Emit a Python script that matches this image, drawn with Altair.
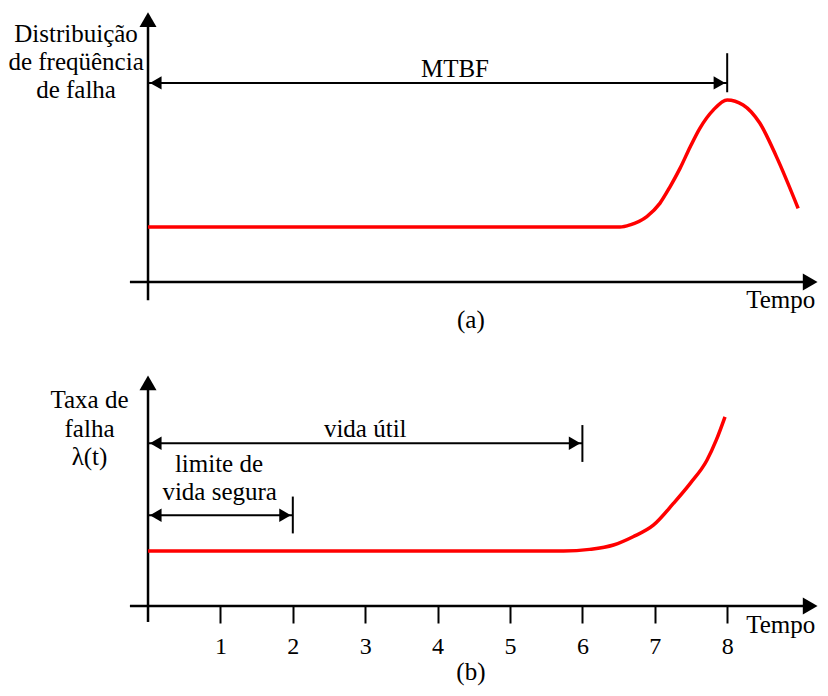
import altair as alt
import pandas as pd

# ---------------- data ----------------
# shared time axis (units of "Tempo")
XDOM = [-1.934, 9.282]
W = 812
HA, HB = 330, 352
YDOM_A = [-1.018, 4.982]
YDOM_B = [-1.527, 4.873]

# (a) failure frequency distribution
a_x = [0.0, 6.0, 6.52, 6.66, 6.89, 7.07, 7.21, 7.35, 7.49, 7.62, 7.81, 8.0, 8.22, 8.45, 8.68, 8.98]
a_y = [1.0, 1.0, 1.0, 1.04, 1.19, 1.43, 1.73, 2.07, 2.46, 2.79, 3.13, 3.31, 3.22, 2.89, 2.28, 1.34]

# (b) failure rate lambda(t)
b_x = [0.0, 5.74, 6.10, 6.43, 6.70, 6.98, 7.26, 7.49, 7.72, 7.85, 7.97]
b_y = [1.0, 1.0, 1.03, 1.11, 1.26, 1.47, 1.87, 2.23, 2.65, 3.02, 3.44]

ticks = [1, 2, 3, 4, 5, 6, 7, 8]

# dimension arrows: start, end, level, tick low, tick high
mtbf = [0, 8, 3.62, 3.45, 4.16]
vida_util = [0, 6, 2.96, 2.62, 3.29]
limite = [0, 2, 1.65, 1.32, 1.99]

# axis lines
a_axis_x = [-0.25, 9.15]
a_axis_y = [-0.33, 4.8]
a_tip = [9.282, 4.95]
b_axis_x = [-0.25, 9.15]
b_axis_y = [-0.29, 4.05]
b_tip = [9.282, 4.236]

# texts
a_labels = ["Distribuição", "de freqüência", "de falha", "MTBF", "Tempo", "(a)"]
a_lx = [-0.994, -0.994, -0.994, 4.24, 8.74, 4.46]
a_ly = [4.369, 3.855, 3.340, 3.727, -0.478, -0.836]

b_labels = ["Taxa de", "falha", "λ(t)", "vida útil", "limite de", "vida segura", "Tempo", "(b)"]
b_lx = [-0.808, -0.808, -0.808, 3.00, 0.98, 0.99, 8.74, 4.46]
b_ly = [3.595, 3.078, 2.564, 3.078, 2.442, 1.927, -0.484, -1.35]

FONT = "Liberation Serif"
FS = 25


def build_panel(cx, cy, axis_x, axis_y, tip, dims, labels, lx, ly, ydom, h, xaxis):
    X = lambda f="x": alt.X(f"{f}:Q", scale=alt.Scale(domain=XDOM, nice=False, zero=False), axis=xaxis)
    Y = lambda f="y": alt.Y(f"{f}:Q", scale=alt.Scale(domain=ydom, nice=False, zero=False), axis=None)

    axes_df = pd.DataFrame({
        "x": [axis_x[0], 0], "x2": [axis_x[1], 0],
        "y": [0, axis_y[0]], "y2": [0, axis_y[1]],
    })
    axes = alt.Chart(axes_df).mark_rule(color="black", strokeWidth=2.5).encode(
        x=X(), x2="x2:Q", y=Y(), y2="y2:Q")

    dim_rows = {"x": [], "x2": [], "y": [], "y2": []}
    for d in dims:
        dim_rows["x"] += [d[0], d[1]]
        dim_rows["x2"] += [d[1], d[1]]
        dim_rows["y"] += [d[2], d[3]]
        dim_rows["y2"] += [d[2], d[4]]
    dim_lines = alt.Chart(pd.DataFrame(dim_rows)).mark_rule(color="black", strokeWidth=2).encode(
        x=X(), x2="x2:Q", y=Y(), y2="y2:Q")

    left_df = pd.DataFrame({"x": [d[0] for d in dims], "y": [d[2] for d in dims]})
    right_df = pd.DataFrame({"x": [d[1] for d in dims], "y": [d[2] for d in dims]})
    left_heads = alt.Chart(left_df).mark_point(
        shape="triangle-left", size=180, filled=True, color="black", opacity=1, xOffset=7.75
    ).encode(x=X(), y=Y())
    right_heads = alt.Chart(right_df).mark_point(
        shape="triangle-right", size=180, filled=True, color="black", opacity=1, xOffset=-7.75
    ).encode(x=X(), y=Y())

    xhead = alt.Chart(pd.DataFrame({"x": [tip[0]], "y": [0]})).mark_point(
        shape="triangle-right", size=289, filled=True, color="black", opacity=1, xOffset=-9.8
    ).encode(x=X(), y=Y())
    yhead = alt.Chart(pd.DataFrame({"x": [0], "y": [tip[1]]})).mark_point(
        shape="triangle-up", size=289, filled=True, color="black", opacity=1, yOffset=9.8
    ).encode(x=X(), y=Y())

    curve = alt.Chart(pd.DataFrame({"x": cx, "y": cy})).mark_line(
        color="#ff0000", strokeWidth=3.5, interpolate="monotone"
    ).encode(x=X(), y=Y())

    text = alt.Chart(pd.DataFrame({"t": labels, "x": lx, "y": ly})).mark_text(
        font=FONT, fontSize=FS, color="black", align="center", baseline="alphabetic"
    ).encode(x=X(), y=Y(), text="t:N")

    return alt.layer(axes, dim_lines, left_heads, right_heads, xhead, yhead, curve, text).properties(
        width=W, height=h)


axis_b = alt.Axis(
    values=ticks, domain=False, grid=False, ticks=True, tickSize=17, tickWidth=2,
    tickColor="black", labelFont=FONT, labelFontSize=24, labelColor="black",
    labelPadding=11, labelFlush=False, labelOverlap=False, offset=-84, title=None,
)

panel_a = build_panel(a_x, a_y, a_axis_x, a_axis_y, a_tip, [mtbf],
                      a_labels, a_lx, a_ly, YDOM_A, HA, None)
panel_b = build_panel(b_x, b_y, b_axis_x, b_axis_y, b_tip, [vida_util, limite],
                      b_labels, b_lx, b_ly, YDOM_B, HB, axis_b)

chart = alt.vconcat(panel_a, panel_b, spacing=0, bounds="flush").properties(
    padding=0, background="white"
).configure_view(stroke=None)

chart.save("out.html", embed_options={"renderer": "svg", "actions": False})
